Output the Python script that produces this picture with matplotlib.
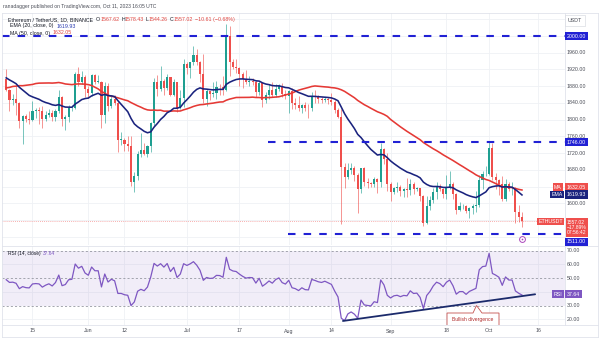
import matplotlib
matplotlib.use("Agg")
import matplotlib.pyplot as plt
from matplotlib.patches import Polygon
import numpy as np
import pandas as pd

plt.rcParams['font.family'] = ['Liberation Sans', 'DejaVu Sans']

# ---------------- data (ETH/USDT daily, 2023-05-07 .. 2023-10-11) ----------------
start_date = "2023-05-07"
opens = [
    1897, 1872, 1848, 1850, 1841, 1796, 1809, 1801, 1799, 1821, 1823, 1821, 1802, 1811, 1817, 1806, 1820, 1853, 1801, 1806, 1827, 1829, 1909, 1891, 1902,
    1873, 1863, 1907, 1891, 1891, 1811, 1881, 1833, 1849, 1840, 1752, 1752, 1742, 1738, 1650, 1666, 1718, 1728, 1718, 1736, 1791, 1889, 1874, 1893, 1875, 1902, 1859, 1889, 1829, 1852,
    1934, 1924, 1937, 1955, 1937, 1910, 1850, 1868, 1862, 1864, 1879, 1878, 1870, 2000, 1937, 1927, 1924, 1910, 1898, 1889, 1892, 1891, 1866, 1887, 1848, 1858, 1870, 1860, 1874, 1881, 1862,
    1856, 1869, 1839, 1835, 1827, 1835, 1828, 1827, 1856, 1853, 1849, 1847, 1850, 1846, 1842, 1824, 1806, 1687, 1663, 1680, 1685, 1668, 1633, 1685, 1652, 1648, 1645, 1657, 1652, 1730, 1706,
    1646, 1628, 1636, 1638, 1630, 1634, 1632, 1647, 1635, 1636, 1617, 1553, 1593, 1607, 1627, 1641, 1635, 1622, 1637, 1645, 1623, 1585, 1593, 1593, 1581, 1589, 1593, 1597, 1656, 1669,
    1671, 1733, 1663, 1656, 1647, 1611, 1647, 1633, 1633, 1580, 1567.62,
]
highs = [
    1920, 1873, 1862, 1880, 1843, 1812, 1814, 1820, 1845, 1828, 1830, 1832, 1820, 1825, 1822, 1826, 1870, 1856, 1812, 1835, 1834, 1915, 1926, 1917, 1906,
    1880, 1908, 1908, 1907, 1892, 1890, 1888, 1857, 1860, 1844, 1771, 1757, 1761, 1762, 1675, 1724, 1768, 1745, 1740, 1795, 1900, 1906, 1928, 1897, 1908, 1902, 1898, 1890, 1870, 1945,
    1939, 1938, 1976, 1968, 1940, 1958, 1873, 1869, 1890, 1892, 1885, 1904, 2029, 2025, 1945, 1945, 1927, 1915, 1918, 1905, 1900, 1894, 1893, 1888, 1867, 1885, 1890, 1885, 1885, 1887, 1872,
    1870, 1875, 1851, 1856, 1838, 1843, 1838, 1865, 1870, 1860, 1853, 1855, 1854, 1863, 1848, 1829, 1826, 1697, 1697, 1696, 1688, 1672, 1685, 1687, 1660, 1652, 1662, 1661, 1745, 1732, 1720,
    1652, 1640, 1650, 1644, 1637, 1660, 1657, 1652, 1640, 1637, 1620, 1618, 1618, 1637, 1651, 1646, 1637, 1668, 1677, 1652, 1624, 1602, 1598, 1597, 1592, 1598, 1629, 1667, 1678, 1689,
    1746, 1745, 1672, 1658, 1665, 1657, 1652, 1650, 1638, 1595, 1578.43,
]
lows = [
    1868, 1820, 1835, 1810, 1780, 1741, 1795, 1790, 1797, 1803, 1790, 1780, 1797, 1806, 1796, 1796, 1815, 1785, 1775, 1795, 1820, 1826, 1880, 1886, 1855,
    1852, 1856, 1886, 1887, 1780, 1793, 1821, 1827, 1835, 1722, 1740, 1724, 1725, 1641, 1626, 1655, 1710, 1715, 1711, 1722, 1785, 1857, 1869, 1860, 1870, 1856, 1856, 1819, 1825, 1830,
    1910, 1900, 1930, 1930, 1890, 1840, 1832, 1846, 1855, 1850, 1860, 1860, 1868, 1905, 1920, 1911, 1880, 1875, 1885, 1880, 1882, 1855, 1860, 1830, 1840, 1850, 1855, 1855, 1869, 1855, 1850,
    1815, 1826, 1825, 1820, 1815, 1820, 1803, 1820, 1840, 1840, 1840, 1843, 1838, 1836, 1815, 1803, 1550, 1636, 1658, 1671, 1654, 1578, 1625, 1642, 1637, 1640, 1640, 1625, 1640, 1694, 1630,
    1606, 1623, 1628, 1617, 1615, 1616, 1620, 1623, 1630, 1605, 1545, 1550, 1585, 1601, 1610, 1630, 1612, 1610, 1634, 1610, 1575, 1582, 1586, 1578, 1565, 1575, 1580, 1590, 1634, 1665,
    1668, 1655, 1635, 1620, 1605, 1605, 1630, 1620, 1553, 1555, 1544.26,
]
closes = [
    1872, 1848, 1850, 1841, 1796, 1809, 1801, 1799, 1821, 1823, 1821, 1802, 1811, 1817, 1806, 1820, 1853, 1801, 1806, 1827, 1829, 1909, 1891, 1902, 1873,
    1863, 1907, 1891, 1891, 1811, 1881, 1833, 1849, 1840, 1752, 1752, 1742, 1738, 1650, 1666, 1718, 1728, 1718, 1736, 1791, 1889, 1874, 1893, 1875, 1902, 1859, 1889, 1829, 1852, 1934,
    1924, 1937, 1955, 1937, 1910, 1850, 1868, 1862, 1864, 1879, 1878, 1870, 2000, 1937, 1927, 1924, 1910, 1898, 1889, 1892, 1891, 1866, 1887, 1848, 1858, 1870, 1860, 1874, 1881, 1862, 1856,
    1869, 1839, 1835, 1827, 1835, 1828, 1827, 1856, 1853, 1849, 1847, 1850, 1846, 1842, 1824, 1806, 1687, 1663, 1680, 1685, 1668, 1633, 1685, 1652, 1648, 1645, 1657, 1652, 1730, 1706, 1646,
    1628, 1636, 1638, 1630, 1634, 1632, 1647, 1635, 1636, 1617, 1553, 1593, 1607, 1627, 1641, 1635, 1622, 1637, 1645, 1623, 1585, 1593, 1593, 1581, 1589, 1593, 1597, 1656, 1669, 1671,
    1733, 1663, 1656, 1647, 1611, 1647, 1633, 1633, 1580, 1567, 1557.02,
]
# closes before the visible range (2023-03-18 .. 2023-05-06), used only to warm up EMA / MA / RSI
warmup_closes = [
    1750, 1790, 1735, 1805, 1737, 1817, 1752, 1743, 1775, 1713, 1774, 1792, 1794, 1822,
    1823, 1792, 1810, 1871, 1910, 1873, 1864, 1851, 1861, 1912, 1892, 1920, 2012, 2099, 2093, 2120,
    2075, 2101, 1939, 1943, 1849, 1880, 1863, 1842, 1867, 1864, 1907, 1892, 1908, 1870,
    1830, 1871, 1906, 1876, 1993, 1897,
]
levels = [2000.0, 1746.0, 1527.0]          # drawn horizontal lines
level_labels = ["2000.00", "1746.00", "1511.00"]
price_ticks = [1600, 1680, 1720, 1760, 1800, 1840, 1880, 1920, 1960]
rsi_ticks = [20, 30, 50, 60, 70]
date_ticks = ["2023-05-15", "2023-06-01", "2023-06-12", "2023-07-01", "2023-07-17", "2023-08-01",
              "2023-08-14", "2023-09-01", "2023-09-18", "2023-10-01", "2023-10-16"]
date_tick_labels = ["15", "Jun", "12", "Jul", "17", "Aug", "14", "Sep", "18", "Oct", "16"]
trend_dates = ["2023-08-17 12:00", "2023-10-15"]
trend_rsi = [18.9, 38.3]
ema_value, ma_value, rsi_value = "1619.93", "1632.05", "37.64"

# ---------------- layout helpers (pixel coordinates of a 600x341 canvas) ----------------
W, H = 600, 341
fig = plt.figure(figsize=(6.0, 3.41), dpi=100)
fig.patch.set_facecolor("white")

def fx(x): return x / W
def fy(y): return 1 - y / H

L_PX, R_PX = 2, 565
PT, PB = 13, 245      # price pane
RT, RB = 246, 325     # rsi pane

ax = fig.add_axes([fx(L_PX), fy(PB), (R_PX - L_PX) / W, (PB - PT) / H])
rax = fig.add_axes([fx(L_PX), fy(RB), (R_PX - L_PX) / W, (RB - RT) / H])

UP, DOWN = "#1f9f91", "#ef4f4c"
EMA_C, MA_C = "#1a237e", "#e53935"
LVL_C = "#2121d4"
RSI_C = "#7e57c2"
GRID_C = "#eff1f5"
TXT_C = "#4a4d57"

ref = pd.Timestamp("2023-05-15")
dates = pd.date_range(start_date, periods=len(closes), freq="D")
xd = np.array([(d - ref).days for d in dates], dtype=float)

o = np.array(opens, float); h = np.array(highs, float)
l = np.array(lows, float); c = np.array(closes, float)

allc = pd.Series(list(warmup_closes) + list(closes), dtype=float)
ema = allc.ewm(span=20, adjust=False).mean().values[-len(closes):]
ma = allc.rolling(50).mean().values[-len(closes):]
delta = allc.diff()
gain = delta.clip(lower=0).ewm(alpha=1 / 14, adjust=False).mean()
loss = (-delta.clip(upper=0)).ewm(alpha=1 / 14, adjust=False).mean()
rsi = (100 - 100 / (1 + gain / loss)).values[-len(closes):]

XMIN, XMAX = -9.28, 162.1
for a in (ax, rax):
    a.set_xlim(XMIN, XMAX)
    a.set_xticks([]); a.set_yticks([])
    for s in a.spines.values():
        s.set_visible(False)
ax.set_ylim(1500.3, 2055.0)
rax.set_ylim(15.96, 73.4)

tick_x = [(pd.Timestamp(t) - ref).days for t in date_ticks]
for a in (ax, rax):
    for t in tick_x:
        a.axvline(t, color=GRID_C, lw=0.6, zorder=0)
for p in range(1520, 2041, 40):
    ax.axhline(p, color=GRID_C, lw=0.6, zorder=0)
for r in (20, 40, 60):
    rax.axhline(r, color=GRID_C, lw=0.6, zorder=0)

# ---------------- candles ----------------
cols = np.where(c >= o, UP, DOWN)
ax.vlines(xd, l, h, colors=cols, lw=0.6, alpha=0.7, zorder=2)
ax.bar(xd, np.maximum(np.abs(c - o), 0.9), bottom=np.minimum(o, c), width=0.64,
       color=cols, linewidth=0, zorder=3)

ax.plot(xd, ma, color=MA_C, lw=1.15, zorder=4)
ax.plot(xd, ema, color=EMA_C, lw=1.15, zorder=4)

# current price dotted line
ax.axhline(c[-1], color=DOWN, lw=0.6, ls=(0, (1, 1.5)), alpha=0.6, zorder=1)

# horizontal levels
lvl_start = [XMIN, 71.7, 77.8]
for lv, xs in zip(levels, lvl_start):
    ax.plot([xs, XMAX], [lv, lv], color=LVL_C, lw=1.5, ls=(0, (3.6, 3.9)), zorder=5,
            solid_capstyle='butt', dash_capstyle='butt')

# event marker
ax.plot([xd[-1]], [0.026], transform=ax.get_xaxis_transform(), marker='o', ms=4.2,
        mfc='white', mec='#ab47bc', mew=0.7, clip_on=False, zorder=6)
ax.plot([xd[-1]], [0.026], transform=ax.get_xaxis_transform(), marker='o', ms=1.2,
        mfc='#ab47bc', mec='none', clip_on=False, zorder=7)

# ---------------- RSI ----------------
rax.fill_between([XMIN, XMAX], 30, 70, color=RSI_C, alpha=0.1, lw=0, zorder=0)
for r in (70, 50, 30):
    rax.axhline(r, color="#9598a1", lw=0.6, ls=(0, (2.5, 2.5)), zorder=1)
rax.plot(xd, rsi, color=RSI_C, lw=0.9, zorder=3)
tx = [(pd.Timestamp(t) - ref) / pd.Timedelta(days=1) for t in trend_dates]
rax.plot(tx, trend_rsi, color="#1b2a6b", lw=1.3, zorder=4, solid_capstyle='round')

# Bullish divergence callout (pixel coords -> figure)
poly_px = [(447, 313), (473, 313), (476.5, 305.5), (482, 313), (499, 313), (499, 332), (447, 332)]
callout = Polygon([(fx(x), fy(y)) for x, y in poly_px], closed=True, transform=fig.transFigure,
                  fc="white", ec="#c4524f", lw=0.6, zorder=6)
rax.add_patch(callout)
fig.text(fx(473), fy(319.5), "Bullish divergence", color="#b02a2a", fontsize=3.6,
         ha="center", va="center", zorder=7)

# ---------------- frame lines ----------------
def hline_px(y, x0, x1, col="#e0e3eb", lw=0.6):
    fig.add_artist(plt.Line2D([fx(x0), fx(x1)], [fy(y), fy(y)], color=col, lw=lw))
def vline_px(x, y0, y1, col="#e0e3eb", lw=0.6):
    fig.add_artist(plt.Line2D([fx(x), fx(x)], [fy(y0), fy(y1)], color=col, lw=lw))

hline_px(13, 2, 598); hline_px(337, 2, 598); vline_px(2, 13, 337); vline_px(598, 13, 337)
vline_px(565, 13, 325); hline_px(245.5, 2, 598); hline_px(325, 2, 598)

# ---------------- text ----------------
fig.text(fx(3), fy(6.7), "ranadagger published on TradingView.com, Oct 11, 2023 16:05 UTC",
         fontsize=3.6, color=TXT_C, va="center", ha="left")

renderer = fig.canvas.get_renderer()
def seq_text(x, y, parts, size=3.8):
    for s, col, gap in parts:
        t = fig.text(fx(x), fy(y), s, color=col, fontsize=size, va="center", ha="left", zorder=8)
        x += t.get_window_extent(renderer).width + gap
    return x

RED_T = "#e0453f"
seq_text(8, 19.3, [("Ethereum / TetherUS, 1D, BINANCE", "#131722", 3),
                   ("O", "#131722", 0), ("1567.62", RED_T, 2),
                   ("H", "#131722", 0), ("1578.43", RED_T, 2),
                   ("L", "#131722", 0), ("1544.26", RED_T, 2),
                   ("C", "#131722", 0), ("1557.02", RED_T, 2),
                   ("\u221210.61 (\u22120.68%)", RED_T, 0)])
seq_text(10, 26.0, [("EMA (20, close, 0)", "#131722", 3), (ema_value, "#2a3bb0", 0)])
seq_text(10, 33.0, [("MA (50, close, 0)", "#131722", 3), (ma_value, RED_T, 0)])
seq_text(8, 253.3, [("RSI (14, close)", "#131722", 2.5), (rsi_value, RSI_C, 0)], size=3.5)

# price scale labels
ptrans = ax.get_yaxis_transform()
AXW = R_PX - L_PX
def axfx(xpx): return (xpx - L_PX) / AXW
for p in price_ticks:
    ax.text(axfx(567), p, f"{p:.2f}", transform=ptrans, fontsize=3.8, color=TXT_C,
            ha="left", va="center", clip_on=False, zorder=8)
rtrans = rax.get_yaxis_transform()
for r in rsi_ticks:
    rax.text(axfx(567), r, f"{r:.2f}", transform=rtrans, fontsize=3.8, color=TXT_C,
             ha="left", va="center", clip_on=False, zorder=8)

def box(xpx, ypx, s, fc, tc="white", size=3.8, ec="none", pad=0.3):
    fig.text(fx(xpx), fy(ypx), s, fontsize=size, color=tc, ha="left", va="center", zorder=20,
             bbox=dict(boxstyle=f"square,pad={pad}", fc=fc, ec=ec, lw=0.4))

def price_y(p):
    return PT + (2055.0 - p) / (2055.0 - 1500.3) * (PB - PT)

box(568, 20.5, "USDT", "white", tc=TXT_C, ec="#d1d4dc", pad=0.5)
box(567, price_y(2000), level_labels[0], LVL_C)
box(567, price_y(1746), level_labels[1], LVL_C)
box(567, 241.7, level_labels[2], LVL_C)
box(554, 187.3, "MA", DOWN, pad=0.25)
box(567, 187.3, ma_value, DOWN)
box(551.5, 194.5, "EMA", EMA_C, pad=0.25)
box(567, 194.5, ema_value, EMA_C)
box(538.5, 221.5, "ETHUSDT", DOWN, pad=0.25)
fig.text(fx(567), fy(227.5), "1557.02\n\u221217.89%\n07:56:42", fontsize=3.6, color="white",
         ha="left", va="center", zorder=20, linespacing=1.05,
         bbox=dict(boxstyle="square,pad=0.3", fc=DOWN, ec="none"))
box(553.5, 294.3, "RSI", RSI_C, pad=0.25)
box(567, 294.3, rsi_value, RSI_C)

# date labels
for t, lab in zip(tick_x, date_tick_labels):
    xp = L_PX + (t - XMIN) / (XMAX - XMIN) * AXW
    fig.text(fx(xp), fy(331), lab, fontsize=3.8, color=TXT_C, ha="center", va="center")

fig.savefig("out.png", dpi=100)
